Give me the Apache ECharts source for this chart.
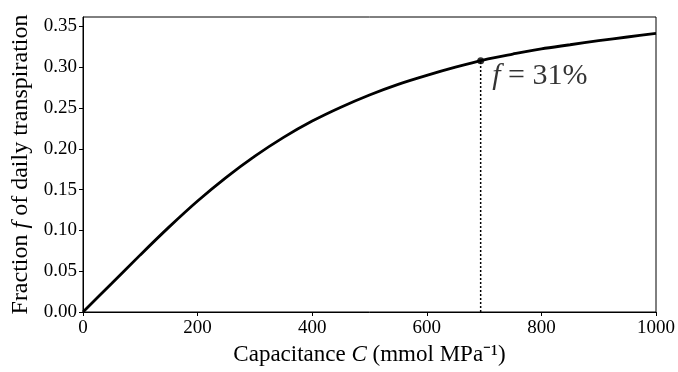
<!DOCTYPE html>
<html>
<head>
<meta charset="utf-8">
<script src="https://cdn.jsdelivr.net/npm/echarts@6/dist/echarts.min.js"></script>
<style>
    html, body { margin: 0; padding: 0; background: #fff; }
    #main { width: 678px; height: 372px; }
</style>
</head>
<body>
<div id="main"></div>
<script>
// capacitance (mmol MPa^-1) and fraction of daily transpiration
var capacitance = [0, 50, 100, 150, 200, 250, 300, 350, 400, 450, 500,
    550, 600, 650, 700, 750, 800, 850, 900, 950, 1000];
var fraction = [0, 0.035, 0.070, 0.104, 0.136, 0.165, 0.191, 0.214, 0.234, 0.251, 0.266,
    0.279, 0.290, 0.300, 0.309, 0.316, 0.3225, 0.3275, 0.3325, 0.337, 0.3415];
var markerC = 694;
var markerF = 0.308;
var yTicks = [0, 0.05, 0.10, 0.15, 0.20, 0.25, 0.30, 0.35];
var xTicks = [0, 200, 400, 600, 800, 1000];

var serif = 'Liberation Serif';
var myChart = echarts.init(document.getElementById('main'));

var curve = [];
for (var a = 0; a < capacitance.length; a++) {
    curve.push([capacitance[a], fraction[a]]);
}

var option = {
    animation: false,
    grid: {
        left: 83, right: 19, top: 17, bottom: 60,
        show: true, borderColor: '#000', borderWidth: 1
    },
    xAxis: {
        type: 'value', min: 0, max: 1000, interval: 200,
        splitLine: {show: false},
        axisLine: {lineStyle: {color: '#000', width: 1}},
        axisTick: {length: 4, lineStyle: {color: '#000'}, customValues: xTicks},
        axisLabel: {
            color: '#000', fontFamily: serif, fontSize: 19, margin: 7, customValues: xTicks,
            formatter: function (v) { return String(v); }
        },
        name: '{n|Capacitance }{i|C}{n| (mmol MPa⁻¹)}',
        nameLocation: 'middle',
        nameGap: 31,
        nameTextStyle: {
            rich: {
                n: {fontFamily: serif, fontSize: 23, color: '#000'},
                i: {fontFamily: serif, fontSize: 23, fontStyle: 'italic', color: '#000'}
            }
        }
    },
    yAxis: {
        type: 'value', min: 0, max: 0.3615,
        splitLine: {show: false},
        axisLine: {show: true, lineStyle: {color: '#000', width: 1}},
        axisTick: {show: true, length: 4, lineStyle: {color: '#000'}, customValues: yTicks},
        axisLabel: {
            color: '#000', fontFamily: serif, fontSize: 19, margin: 6, customValues: yTicks,
            formatter: function (v) { return v.toFixed(2); }
        },
        name: '{n|Fraction }{i|f}{n| of daily transpiration}',
        nameLocation: 'middle',
        nameRotate: 90,
        nameGap: 50,
        nameTextStyle: {
            rich: {
                n: {fontFamily: serif, fontSize: 24, color: '#000'},
                i: {fontFamily: serif, fontSize: 24, fontStyle: 'italic', color: '#000'}
            }
        }
    },
    series: [
        {
            type: 'line',
            data: curve,
            smooth: 0.3,
            showSymbol: false,
            lineStyle: {color: '#000', width: 2.8}
        },
        {
            type: 'line',
            data: [[markerC, 0], [markerC, markerF]],
            showSymbol: false,
            lineStyle: {color: '#000', width: 1.5, type: [2, 2]}
        },
        {
            type: 'scatter',
            data: [[markerC, markerF]],
            symbolSize: 7,
            itemStyle: {color: '#000'},
            label: {
                show: true,
                position: 'right',
                distance: 8,
                offset: [0, 15],
                formatter: '{i|f}{n| = 31%}',
                rich: {
                    n: {fontFamily: serif, fontSize: 30, color: '#000'},
                    i: {fontFamily: serif, fontSize: 30, fontStyle: 'italic', color: '#000'}
                }
            }
        }
    ]
};
myChart.setOption(option);
</script>
</body>
</html>
